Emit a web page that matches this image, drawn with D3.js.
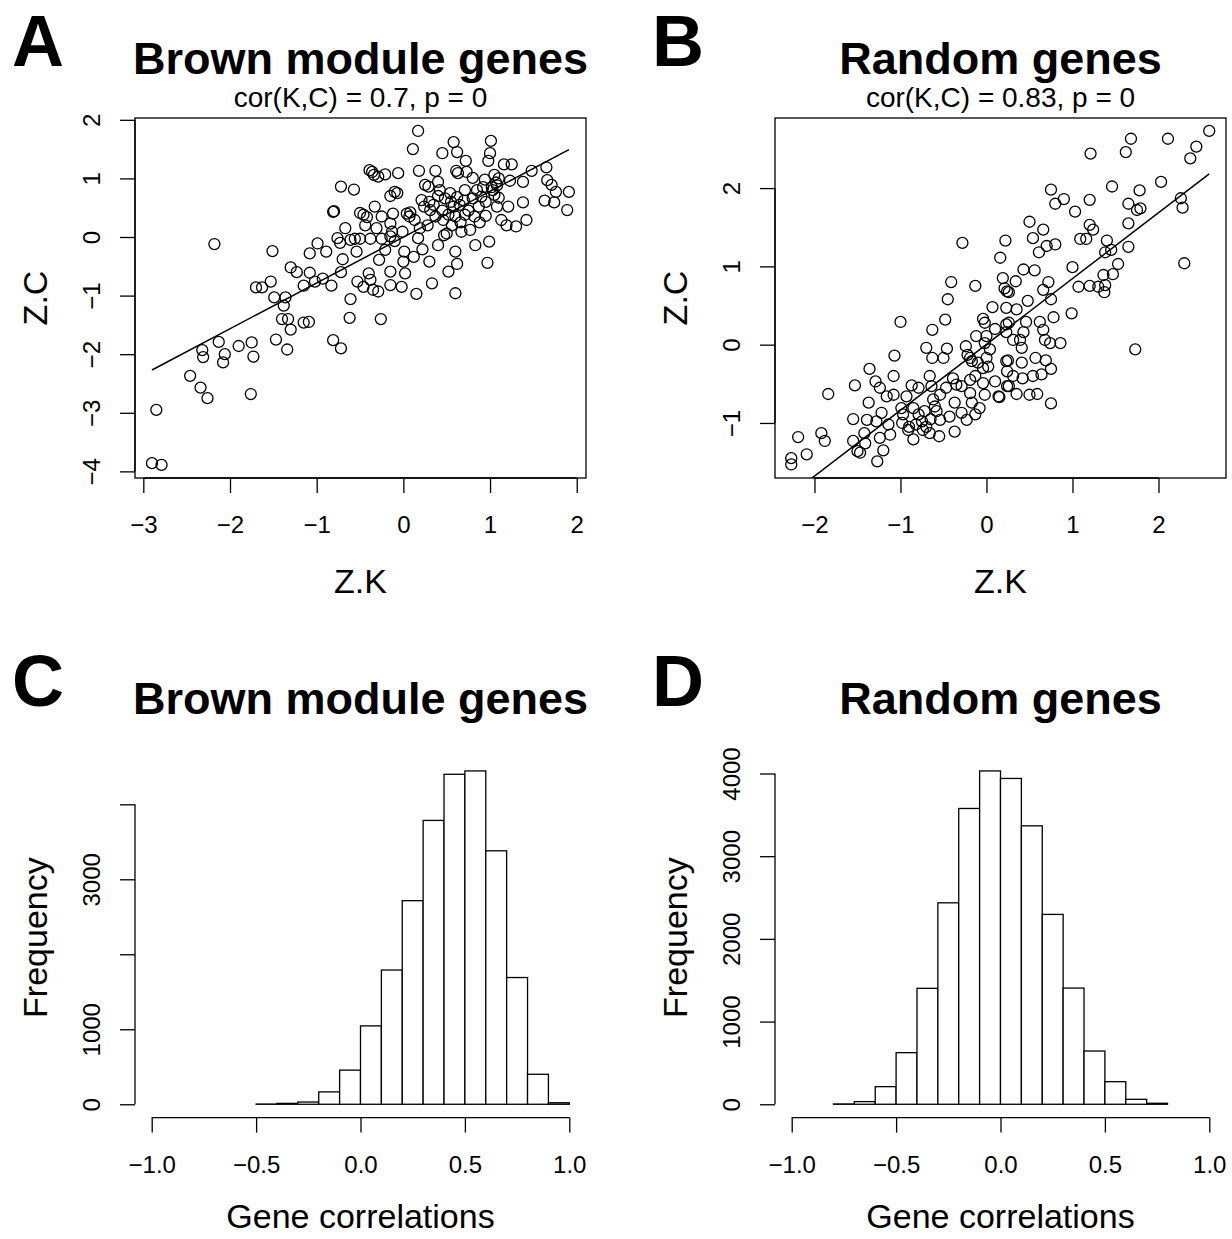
<!DOCTYPE html>
<html><head><meta charset="utf-8">
<script src="https://cdn.jsdelivr.net/npm/d3@7"></script>
<style>
body{margin:0;background:#fff}
svg{display:block}
text{font-family:"Liberation Sans",Arial,Helvetica,sans-serif;fill:#000}
</style>
</head><body>
<svg id="c" width="1232" height="1239"></svg>
<script>
// ---------------- DATA ----------------
const brownPoints = [
[-0.72,0.86],[-0.57,0.81],[-0.81,0.43],[-0.80,0.44],[-0.50,0.41],[-0.67,0.15],[-0.76,-0.02],[-0.73,-0.10],[-0.61,-0.05],[-0.54,-0.25],[-0.70,-0.38],[-0.72,-0.60],[-0.53,-0.76],[-0.83,-0.83],[-0.61,-1.06],[-0.62,-1.38],[-0.81,-1.76],[-0.72,-1.90],
[-2.18,-0.12],[-1.51,-0.24],[-0.99,-0.11],[-1.08,-0.28],[-0.89,-0.25],[-1.30,-0.52],[-1.23,-0.60],[-1.08,-0.61],[-1.15,-0.83],[-1.02,-0.76],[-0.93,-0.71],[-1.53,-0.76],[-1.70,-0.86],[-1.63,-0.86],[-1.49,-1.03],[-1.36,-1.03],[-1.38,-1.17],[-1.40,-1.40],[-1.33,-1.40],[-1.30,-1.58],[-1.15,-1.46],[-1.09,-1.45],[-1.47,-1.75],[-1.34,-1.92],[-2.13,-1.79],[-2.32,-1.93],[-2.31,-2.05],[-2.06,-2.00],[-2.08,-2.14],[-1.90,-1.86],[-1.75,-1.80],[-1.73,-2.04],[-2.46,-2.37],[-2.34,-2.57],[-2.26,-2.75],[-1.76,-2.68],[-2.85,-2.95],[-2.90,-3.86],[-2.79,-3.89],
[0.17,1.81],[0.11,1.50],[0.45,1.43],[0.58,1.62],[0.62,1.45],[0.72,1.30],[1.01,1.64],[1.00,1.43],[0.98,1.30],[1.16,1.24],[1.25,1.24],[0.18,1.13],[0.37,1.13],[0.61,1.13],[0.63,1.09],[0.73,1.11],[0.80,1.01],[0.94,0.98],[1.05,1.06],[1.10,1.00],[1.23,0.96],[1.38,0.94],[1.48,1.13],[1.65,1.19],[1.66,0.97],[1.71,0.89],[1.76,0.77],[1.91,0.77],[1.89,0.46],[1.63,0.62],[1.74,0.59],[1.38,0.59],[1.42,0.29],[1.30,0.18],[1.21,0.52],[1.19,0.20],[1.13,0.29],[1.08,0.52],
[1.03,0.80],[1.08,0.88],[1.05,0.72],[1.10,0.67],[1.07,0.93],[1.02,0.85],
[0.95,0.36],[0.99,-0.08],[0.97,-0.44],[0.83,-0.14],[0.82,0.35],[0.77,0.12],[0.67,0.09],[0.87,0.52],[0.90,0.69],[0.80,0.66],[0.71,0.80],[0.62,0.68],[0.58,0.52],[0.54,0.75],[0.48,0.66],[0.42,0.80],[0.40,0.94],[0.25,0.89],[0.29,0.86],[0.21,0.63],[0.24,0.52],[0.31,0.46],[0.37,0.35],[0.46,0.29],[0.50,0.06],[0.47,0.03],[0.56,0.20],[0.60,0.35],[0.71,0.38],[0.40,-0.14],[0.60,-0.25],[0.62,-0.46],[0.52,-0.59],[0.60,-0.96],[0.33,-0.79],[0.30,-0.42],[0.15,-0.97],[0.22,-0.21],[0.12,-0.34],[0.01,-0.25],[0.17,-0.02],[0.19,0.15],[0.13,0.29],[0.07,0.35],[0.08,0.42],[0.04,0.40],[-0.01,0.09],[-0.06,1.09],[-0.15,0.70],[-0.10,0.77],[-0.07,0.75],[-0.21,1.07],[-0.29,1.03],[-0.36,1.11],[-0.39,1.14],[-0.34,1.06],[-0.33,0.52],[-0.25,0.35],[-0.12,0.40],[-0.46,0.38],[-0.42,0.34],[-0.44,0.20],[-0.31,0.15],[-0.15,0.23],[-0.13,0.09],[-0.25,-0.03],[-0.38,-0.03],[-0.50,-0.03],[-0.56,-0.03],[-0.15,0.01],[-0.10,-0.07],[-0.21,-0.22],[-0.28,-0.39],[0.00,-0.42],[0.02,-0.62],[-0.15,-0.59],[-0.40,-0.62],[-0.38,-0.73],[-0.46,-0.85],[-0.35,-0.90],[-0.29,-0.93],[-0.15,-0.82],[-0.02,-0.85],[-0.26,-1.40],
[0.35,0.55],[0.45,0.45],[0.52,0.38],[0.65,0.55],[0.70,0.62],[0.75,0.45],[0.55,0.60],[0.40,0.70],[0.30,0.60],[0.85,0.80],[0.92,0.85],[0.95,0.60],[0.88,0.25],[0.66,0.25],[0.28,0.20]
];
const randomPoints = [
[-0.28,1.30],[0.22,1.33],[0.16,1.11],[0.19,0.85],[0.21,0.72],[0.24,0.68],[-0.41,0.80],[-0.13,0.75],[-0.45,0.58],[-1.00,0.29],[-0.48,0.32],[-0.63,0.19],[0.07,0.48],[0.23,0.47],[-0.04,0.33],[-0.02,0.28],[0.10,0.20],[0.23,0.26],[0.23,0.16],[-0.12,0.11],[0.00,0.11],[-0.02,0.02],[-0.24,-0.02],[-0.70,-0.04],[-0.46,-0.05],[-0.63,-0.17],[-0.50,-0.17],[-1.07,-0.14],[-1.36,-0.31],[-1.08,-0.40],[-0.66,-0.40],[-0.22,-0.13],[-0.19,-0.17],[-0.17,-0.21],[-0.10,-0.23],[-0.04,-0.30],[0.02,-0.28],[0.04,-0.06],[0.00,-0.17],[0.23,-0.21],[0.24,-0.34],[0.10,-0.47],[0.24,-0.53],[0.14,-0.66],[-0.19,-0.45],[-0.13,-0.40],[-0.04,-0.49],[-0.02,-0.64],[-0.39,-0.43],[-0.35,-0.51],[-0.29,-0.53],[-0.47,-0.55],[-0.54,-0.64],[-0.64,-0.53],[-0.87,-0.52],[-0.79,-0.55],[-0.19,-0.62],[-0.17,-0.74],[-0.08,-0.81],[-0.37,-0.74],[-0.29,-0.87],[-0.23,-0.96],[-0.13,-0.89],[-0.43,-0.92],[-0.37,-1.11],[-0.62,-0.70],[-0.60,-0.79],[-0.58,-0.85],[-0.54,-0.96],[-0.55,-1.17],[-0.66,-1.13],[-0.74,-1.09],[-0.75,-0.98],[-0.79,-0.89],[-0.85,-0.81],[-0.85,-1.21],[-0.91,-1.09],[-0.93,-0.66],[-0.99,-0.81],[-0.97,-0.89],[-1.08,-0.64],[-1.16,-0.66],[-1.22,-0.87],[-1.24,-0.55],[-1.29,-0.47],[-1.53,-0.52],[-1.37,-0.74],[-1.84,-0.63],[-1.55,-0.95],[-1.39,-0.96],[-1.28,-0.98],[-1.14,-1.02],[-1.12,-1.15],[-1.24,-1.19],[-1.20,-1.35],[-1.27,-1.49],[-1.42,-1.13],[-1.41,-1.26],[-1.55,-1.23],[-1.50,-1.36],[-1.47,-1.38],[-1.92,-1.13],[-1.88,-1.23],[-2.19,-1.18],[-2.09,-1.40],[-2.27,-1.45],[-2.27,-1.53],
[-0.98,-1.00],[-0.90,-1.05],[-0.82,-1.02],[-0.70,-1.05],[-0.65,-0.95],[-0.72,-0.85],
[2.59,2.73],[2.44,2.53],[2.37,2.38],[2.11,2.63],[1.68,2.63],[1.62,2.46],[1.21,2.44],[2.03,2.08],[2.26,1.87],[2.28,1.75],[2.30,1.04],[1.73,-0.06],[1.46,2.02],[1.78,1.97],[1.65,1.80],[1.75,1.72],[1.79,1.74],[1.65,1.55],[1.65,1.25],[1.53,1.03],[1.47,0.90],[1.40,1.33],[1.38,1.18],[1.45,1.21],[1.36,0.89],[1.38,0.76],[1.37,0.67],[1.30,0.74],[1.20,0.75],[1.07,0.74],[1.00,0.99],[0.99,0.40],[1.20,1.85],[1.03,1.70],[0.90,1.86],[0.80,1.80],[0.75,1.98],[1.20,1.53],[1.24,1.47],[1.16,1.35],[1.09,1.35],[0.50,1.57],[0.66,1.47],[0.54,1.36],[0.80,1.28],[0.70,1.26],[0.61,1.18],[0.43,0.96],[0.56,0.95],[0.34,0.81],[0.26,0.67],[0.72,0.80],[0.66,0.70],[0.75,0.58],[0.48,0.56],[0.35,0.45],[0.78,0.35],[0.62,0.29],[0.46,0.29],[0.26,0.28],[0.66,0.19],[0.43,0.16],[0.31,0.06],[0.39,0.06],[0.41,-0.04],[0.68,0.06],[0.74,0.02],[0.86,0.02],[0.25,-0.20],[0.41,-0.23],[0.57,-0.17],[0.69,-0.20],[0.75,-0.31],[0.31,-0.40],[0.42,-0.43],[0.54,-0.40],[0.64,-0.38],[0.26,-0.53],[0.35,-0.63],[0.50,-0.64],[0.59,-0.63],[0.15,-0.67],[0.75,-0.75]
];
const brownFit = [-0.002, 0.782];   // intercept, slope
const randomFit = [0.003, 0.841];
const brownXLim = [-3.096, 2.107];
const brownYLim = [-4.113, 2.031];
const randomXLim = [-2.459, 2.785];
const randomYLim = [-1.703, 2.895];
const brownXTicks = [-3,-2,-1,0,1,2];
const brownYTicks = [-4,-3,-2,-1,0,1,2];
const randomXTicks = [-2,-1,0,1,2];
const randomYTicks = [-1,0,1,2];

const brownBreaks = [-0.5,-0.4,-0.3,-0.2,-0.1,0,0.1,0.2,0.3,0.4,0.5,0.6,0.7,0.8,0.9,1.0];
const brownCounts = [3,12,30,165,455,1045,1790,2715,3785,4400,4445,3380,1690,400,20];
const randomBreaks = [-0.8,-0.7,-0.6,-0.5,-0.4,-0.3,-0.2,-0.1,0,0.1,0.2,0.3,0.4,0.5,0.6,0.7,0.8];
const randomCounts = [4,32,213,624,1402,2436,3577,4031,3940,3367,2296,1405,644,273,60,12];
const histXLim = [-1.08, 1.08];
const histXTicks = [-1,-0.5,0,0.5,1];
const histYTicks = [0,1000,2000,3000,4000];
const brownHistYLabels = ["0","1000","","3000",""];
const randomHistYLabels = ["0","1000","2000","3000","4000"];

const panelLetters = ["A","B","C","D"];
const panelTitles = ["Brown module genes","Random genes","Brown module genes","Random genes"];
const subTitles = ["cor(K,C) = 0.7, p = 0","cor(K,C) = 0.83, p = 0"];

// ---------------- LAYOUT ----------------
const svg = d3.select("#c");
svg.append("rect").attr("width",1232).attr("height",1239).attr("fill","#fff");
const FONT = '"Liberation Sans",Arial,Helvetica,sans-serif';
const cols = [[135,586],[775,1226]];
const rows = [[118,478],[757.6,1117.6]];
const LW = 1.3;

function letterAndTitle(i, col, row){
  const cx = (cols[col][0]+cols[col][1])/2;
  svg.append("text").attr("x", cols[col][0]-123).attr("y", rows[row][0]-52)
    .attr("font-size",72).attr("font-weight","bold").text(panelLetters[i]);
  svg.append("text").attr("x", cx).attr("y", rows[row][0]-44)
    .attr("text-anchor","middle").attr("font-size",45).attr("font-weight","bold").text(panelTitles[i]);
}

function styleAxis(g){
  g.selectAll("line").attr("stroke","#000").attr("stroke-width",LW);
  g.selectAll("path.domain").remove();
  g.selectAll("text").attr("font-size",24).attr("font-family",FONT).attr("fill","#000");
}

function bottomAxis(x, ticks, y0, fmt){
  const g = svg.append("g").attr("transform",`translate(0,${y0})`)
    .call(d3.axisBottom(x).tickValues(ticks).tickSize(15).tickFormat(fmt));
  styleAxis(g);
  g.selectAll("text").attr("y",55).attr("dy",null);
  g.append("line").attr("x1",x(ticks[0])).attr("x2",x(ticks[ticks.length-1]))
    .attr("stroke","#000").attr("stroke-width",LW);
}
function leftAxis(y, ticks, x0, labels){
  const g = svg.append("g").attr("transform",`translate(${x0},0)`)
    .call(d3.axisLeft(y).tickValues(ticks).tickSize(15).tickFormat((d,i)=>labels[i]));
  styleAxis(g);
  g.selectAll("text").attr("x",null).attr("dy",null).attr("text-anchor","middle")
    .attr("transform","translate(-35,0) rotate(-90)");
  g.append("line").attr("y1",y(ticks[0])).attr("y2",y(ticks[ticks.length-1]))
    .attr("stroke","#000").attr("stroke-width",LW);
}
function axisTitles(col,row,xt,yt,xOff){
  const cx = (cols[col][0]+cols[col][1])/2, cy=(rows[row][0]+rows[row][1])/2;
  svg.append("text").attr("x",cx).attr("y",rows[row][1]+xOff).attr("text-anchor","middle")
    .attr("font-size",34).text(xt);
  svg.append("text").attr("transform",`translate(${cols[col][0]-88},${cy}) rotate(-90)`)
    .attr("text-anchor","middle").attr("font-size",34).text(yt);
}

function scatter(i,col,points,fit,xlim,ylim,xt,yt){
  const x = d3.scaleLinear().domain(xlim).range(cols[col]);
  const y = d3.scaleLinear().domain(ylim).range([rows[0][1],rows[0][0]]);
  letterAndTitle(i,col,0);
  svg.append("text").attr("x",(cols[col][0]+cols[col][1])/2).attr("y",107)
    .attr("text-anchor","middle").attr("font-size",28).text(subTitles[i]);
  const cid = "clip"+i;
  svg.append("clipPath").attr("id",cid).append("rect")
    .attr("x",cols[col][0]).attr("y",rows[0][0]).attr("width",cols[col][1]-cols[col][0]).attr("height",rows[0][1]-rows[0][0]);
  svg.append("g").selectAll("circle").data(points).join("circle")
    .attr("cx",d=>x(d[0])).attr("cy",d=>y(d[1])).attr("r",5.5)
    .attr("fill","none").attr("stroke","#000").attr("stroke-width",LW);
  const xe = d3.extent(points,d=>d[0]);
  svg.append("line").attr("clip-path",`url(#${cid})`)
    .attr("x1",x(xe[0])).attr("y1",y(fit[0]+fit[1]*xe[0]))
    .attr("x2",x(xe[1])).attr("y2",y(fit[0]+fit[1]*xe[1]))
    .attr("stroke","#000").attr("stroke-width",LW+0.2);
  svg.append("rect").attr("x",cols[col][0]).attr("y",rows[0][0])
    .attr("width",cols[col][1]-cols[col][0]).attr("height",rows[0][1]-rows[0][0])
    .attr("fill","none").attr("stroke","#000").attr("stroke-width",LW);
  bottomAxis(x, xt, rows[0][1], d3.format("d"));
  leftAxis(y, yt, cols[col][0], yt.map(d3.format("d")));
  axisTitles(col,0,"Z.K","Z.C",115);
}

function hist(i,col,breaks,counts,ylabels){
  const mx = d3.max(counts);
  const x = d3.scaleLinear().domain(histXLim).range(cols[col]);
  const y = d3.scaleLinear().domain([-0.04*mx, 1.04*mx]).range([rows[1][1],rows[1][0]]);
  letterAndTitle(i,col,1);
  svg.append("g").selectAll("rect").data(counts).join("rect")
    .attr("x",(d,k)=>x(breaks[k])).attr("width",(d,k)=>x(breaks[k+1])-x(breaks[k]))
    .attr("y",d=>y(d)).attr("height",d=>y(0)-y(d))
    .attr("fill","#fff").attr("stroke","#000").attr("stroke-width",LW);
  bottomAxis(x, histXTicks, rows[1][1], d3.format(".1f"));
  leftAxis(y, histYTicks, cols[col][0], ylabels);
  axisTitles(col,1,"Gene correlations","Frequency",110);
}

scatter(0,0,brownPoints,brownFit,brownXLim,brownYLim,brownXTicks,brownYTicks);
scatter(1,1,randomPoints,randomFit,randomXLim,randomYLim,randomXTicks,randomYTicks);
hist(2,0,brownBreaks,brownCounts,brownHistYLabels);
hist(3,1,randomBreaks,randomCounts,randomHistYLabels);
</script>
</body></html>
